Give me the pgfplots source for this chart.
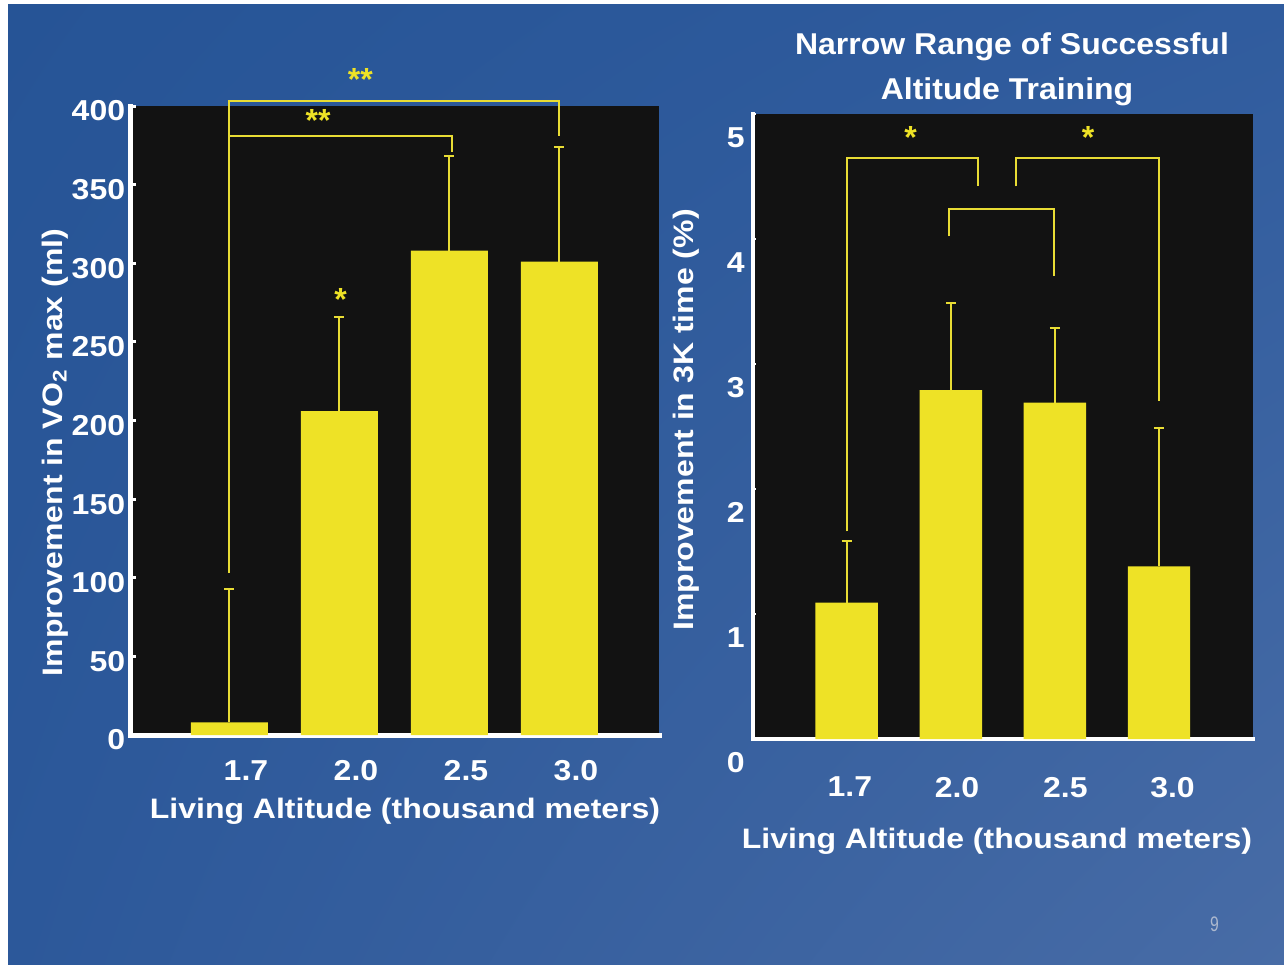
\documentclass[border=0pt]{standalone}
\usepackage{pgfplots}
\pgfplotsset{compat=1.18}
\usetikzlibrary{shadings}
\usepackage{graphicx}
\usepackage{fontspec}
\setmainfont{Liberation Sans}
\definecolor{bgUL}{RGB}{38,84,150}
\definecolor{bgUR}{RGB}{48,92,158}
\definecolor{bgLL}{RGB}{44,88,154}
\definecolor{bgLR}{RGB}{72,108,166}
\definecolor{plotbg}{RGB}{18,18,18}
\definecolor{ylw}{RGB}{238,226,38}
\definecolor{lyl}{RGB}{232,220,52}
\definecolor{pgnum}{RGB}{172,184,206}
\newcommand{\sq}[2]{\scalebox{1}[#1]{#2}}
\newcommand{\fs}{\bfseries\fontsize{16pt}{18pt}\selectfont}

\pgfplotstableread{
x y e
0 8 85
1 206 60
2 308 60
3 301 73
}\vodata
\pgfplotstableread{
x y e
0 1.09 0.49
1 2.79 0.70
2 2.69 0.60
3 1.38 1.11
}\ktdata

\pgfplotsset{
  slide/.style={
    scale only axis, clip=false,
    axis x line=bottom, axis y line=left,
    axis line style={-, white, line width=2.5pt, line cap=rect},
    axis background/.style={fill=plotbg},
    tick align=inside,
    major tick length=2.5pt,
    y tick style={white, line width=1.5pt},
    x tick style={draw=none},
    xticklabel style={anchor=north, inner sep=0pt, text=white, font=\fs},
    yticklabel style={anchor=east, inner sep=0pt, text=white, font=\fs},
  },
  bars/.style={ybar, fill=ylw, draw=none,
    error bars/.cd, y dir=plus, y explicit,
    error bar style={lyl, line width=1pt},
    error mark options={lyl, line width=1pt, mark size=2.5pt, rotate=90}},
  brk/.style={lyl, line width=1pt, sharp plot, no marks},
}

\begin{document}
\begin{tikzpicture}
\fill[white] (0,0) rectangle (642pt,482pt);
\shade[upper left=bgUL, upper right=bgUR, lower left=bgLL, lower right=bgLR] (4pt,-1pt) rectangle (643pt,479.5pt);

% Left panel
\begin{axis}[slide,
  at={(65.25pt,114.5pt)}, anchor=south west,
  width=264.25pt, height=314.5pt,
  xmin=-0.9, xmax=3.905, ymin=0, ymax=400,
  ytick={0,50,100,150,200,250,300,350,400},
  yticklabels={\sq{0.9}{0},\sq{0.9}{50},\sq{0.9}{100},\sq{0.9}{150},\sq{0.9}{200},\sq{0.9}{250},\sq{0.9}{300},\sq{0.9}{350},\sq{0.9}{400}},
  yticklabel style={xshift=-2.5pt, yshift=-2.5pt},
  xtick={0.15,1.15,2.15,3.15},
  xticklabels={\sq{0.9}{1.7},\sq{0.9}{2.0},\sq{0.9}{2.5},\sq{0.9}{3.0}},
  xticklabel style={yshift=-12.5pt},
]
\addplot[bar width=0.7, bars] table[x=x, y=y, y error=e] {\vodata};
\addplot[brk] coordinates {(0,103) (0,403) (3,403) (3,381)};
\addplot[brk] coordinates {(0,381) (2.02,381) (2.02,371)};
\node[text=ylw, font=\fs, anchor=base, yshift=-9pt] at (axis cs:1.19,421) {**};
\node[text=ylw, font=\fs, anchor=base, yshift=-9pt] at (axis cs:0.805,395.5) {**};
\node[text=ylw, font=\fs, anchor=base, yshift=-9pt] at (axis cs:1.01,281.7) {*};
\end{axis}

% Right panel
\begin{axis}[slide,
  at={(376.5pt,112.5pt)}, anchor=south west,
  width=250pt, height=312.5pt,
  xmin=-0.9, xmax=3.903, ymin=0, ymax=5,
  axis line style={line width=2.2pt},
  ytick={0,1,2,3,4,5},
  yticklabels={\sq{0.9}{0},\sq{0.9}{1},\sq{0.9}{2},\sq{0.9}{3},\sq{0.9}{4},\sq{0.9}{5}},
  yticklabel style={xshift=-4pt, yshift=-11.75pt},
  y tick style={line width=1pt},
  major tick length=1.5pt,
  xtick={0.03,1.06,2.10,3.13},
  xticklabels={\sq{0.9}{1.7},\sq{0.9}{2.0},\sq{0.9}{2.5},\sq{0.9}{3.0}},
  xticklabel style={yshift=-18.8pt},
]
\addplot[bar width=0.6, bars] table[x=x, y=y, y error=e] {\ktdata};
\addplot[brk] coordinates {(0,1.66) (0,4.65) (1.257,4.65) (1.257,4.42)};
\addplot[brk] coordinates {(1.624,4.42) (1.624,4.65) (3,4.65) (3,2.70)};
\addplot[brk] coordinates {(0.98,4.02) (0.98,4.24) (1.99,4.24) (1.99,3.70)};
\node[text=ylw, font=\fs, anchor=base, yshift=-9pt] at (axis cs:0.613,4.864) {*};
\node[text=ylw, font=\fs, anchor=base, yshift=-9pt] at (axis cs:2.318,4.864) {*};
\end{axis}

% Texts
\node[text=white, font=\fs, anchor=base, inner sep=0pt] at (202.5pt,73pt) {\sq{0.88}{Living Altitude (thousand meters)}};
\node[text=white, font=\fs, anchor=base, inner sep=0pt] at (498.5pt,58pt) {\sq{0.88}{Living Altitude (thousand meters)}};
\node[text=white, font=\fs, anchor=base, inner sep=0pt, rotate=90] at (31pt,255.75pt) {\sq{0.88}{Improvement in VO\textsubscript{2} max (ml)}};
\node[text=white, font=\fs, anchor=base, inner sep=0pt, rotate=90] at (346.5pt,272pt) {\sq{0.88}{Improvement in 3K time (\%)}};
\node[text=white, font=\fs, anchor=base, inner sep=0pt] at (506pt,454.5pt) {\sq{0.94}{Narrow Range of Successful}};
\node[text=white, font=\fs, anchor=base, inner sep=0pt] at (503.5pt,432pt) {\sq{0.94}{Altitude Training}};
\node[text=pgnum, font=\fontsize{10.5pt}{12pt}\selectfont, anchor=base, inner sep=0pt] at (607.25pt,16.2pt) {\scalebox{0.75}[1]{9}};

\pgfresetboundingbox
\useasboundingbox (0,0) rectangle (642pt,482pt);
\end{tikzpicture}
\end{document}
